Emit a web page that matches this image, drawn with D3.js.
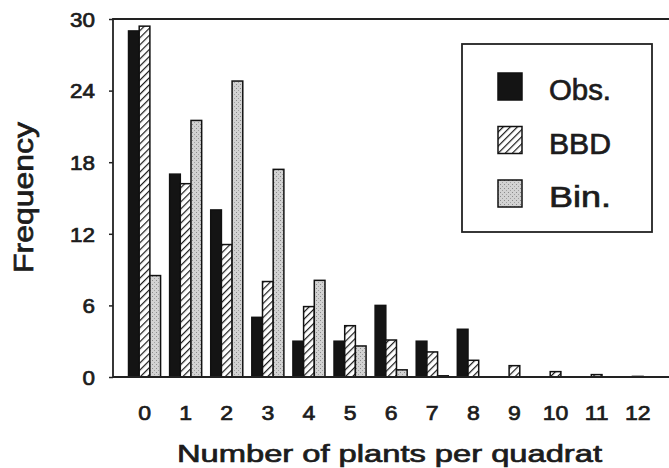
<!DOCTYPE html>
<html>
<head>
<meta charset="utf-8">
<script src="https://cdn.jsdelivr.net/npm/d3@7"></script>
<style>
  body { margin: 0; background: #fff; }
  text { font-family: "Liberation Sans", Arial, sans-serif; fill: #1c1c1c; stroke: #1c1c1c; stroke-width: 0.7px; }
</style>
</head>
<body>
<script>
const w = 669;
const h = 468;

// values
const categories = [0, 1, 2, 3, 4, 5, 6, 7, 8, 9, 10, 11, 12];
const obs = [29, 17, 14, 5, 3, 3, 6, 3, 4, 0, 0, 0, 0];
const bbd = [29.4, 16.2, 11.1, 8.0, 5.9, 4.3, 3.1, 2.1, 1.4, 0.95, 0.45, 0.2, 0.05];
const bin = [8.5, 21.5, 24.8, 17.4, 8.1, 2.6, 0.6, 0.1, 0, 0, 0, 0, 0];
const seriesNames = ["Obs.", "BBD", "Bin."];
const yTicks = [0, 6, 12, 18, 24, 30];

const series = [obs, bbd, bin];
const fills = ["#141414", "url(#hatch)", "url(#stipple)"];

let svg = d3.select("body")
            .append("svg")
                .attr("width", w)
                .attr("height", h);

// patterns
let defs = svg.append("defs");
let hatch = defs.append("pattern")
    .attr("id", "hatch")
    .attr("patternUnits", "userSpaceOnUse")
    .attr("width", 5)
    .attr("height", 5)
    .attr("patternTransform", "rotate(45)");
hatch.append("rect").attr("width", 5).attr("height", 5).attr("fill", "#fff");
hatch.append("line")
    .attr("x1", 0).attr("y1", 0).attr("x2", 0).attr("y2", 5)
    .attr("stroke", "#1a1a1a").attr("stroke-width", 2.4);

let stip = defs.append("pattern")
    .attr("id", "stipple")
    .attr("patternUnits", "userSpaceOnUse")
    .attr("width", 4)
    .attr("height", 4);
stip.append("rect").attr("width", 4).attr("height", 4).attr("fill", "#d2d2d2");
stip.append("rect").attr("x", 0).attr("y", 0).attr("width", 1).attr("height", 1).attr("fill", "#8a8a8a");
stip.append("rect").attr("x", 2).attr("y", 2).attr("width", 1).attr("height", 1).attr("fill", "#a0a0a0");

// scales
let x = d3.scaleBand()
    .domain(categories)
    .range([124, 124 + 13 * 41.1])
    .paddingInner(0.22)
    .paddingOuter(0.11);

let xs = d3.scaleBand()
    .domain(d3.range(series.length))
    .range([0, x.bandwidth()]);

let y = d3.scaleLinear()
    .domain([0, 30])
    .range([377, 19]);

// stretch text horizontally a bit, the original font is wide
function stretch(sel, k) {
    sel.each(function() {
        let len = this.getComputedTextLength();
        d3.select(this)
            .attr("textLength", len * k)
            .attr("lengthAdjust", "spacingAndGlyphs");
    });
}

// bars
series.forEach((vals, s) => {
    svg.append("g")
        .selectAll("rect")
        .data(categories.map((c, i) => ({c: c, v: vals[i]})).filter(d => d.v > 0))
        .enter()
        .append("rect")
        .attr("x", d => x(d.c) + xs(s))
        .attr("y", d => y(d.v))
        .attr("width", xs.bandwidth())
        .attr("height", d => y(0) - y(d.v))
        .attr("fill", fills[s])
        .attr("stroke", "#111")
        .attr("stroke-width", 1.5);
});

// frame: top and bottom run off the right edge
svg.append("path")
    .attr("d", "M" + w + "," + y(30) + "H" + 113 + "V" + y(0) + "H" + w)
    .attr("fill", "none")
    .attr("stroke", "#222")
    .attr("stroke-width", 1.8);

// y axis
let yAxis = svg.append("g")
    .attr("transform", "translate(113,0)")
    .call(d3.axisLeft(y).tickValues(yTicks).tickSize(4).tickPadding(14));
yAxis.select(".domain").remove();
yAxis.selectAll("line").attr("stroke", "#222").attr("stroke-width", 1.5);
yAxis.selectAll("text")
    .attr("font-size", 20)
    .attr("fill", "#1c1c1c")
    .attr("dy", "0.36em")
    .call(stretch, 1.12);

// x axis (labels only)
let xAxis = svg.append("g")
    .attr("transform", "translate(0," + y(0) + ")")
    .call(d3.axisBottom(x).tickSize(0).tickPadding(29));
xAxis.select(".domain").remove();
xAxis.selectAll("text")
    .attr("font-size", 20)
    .attr("fill", "#1c1c1c")
    .call(stretch, 1.15);

// axis titles
svg.append("text")
    .attr("x", 389.5)
    .attr("y", 462)
    .attr("text-anchor", "middle")
    .attr("font-size", 23.5)
    .attr("textLength", 425)
    .attr("lengthAdjust", "spacingAndGlyphs")
    .text("Number of plants per quadrat");

svg.append("text")
    .attr("transform", "translate(33,197.5) rotate(-90)")
    .attr("text-anchor", "middle")
    .attr("font-size", 27)
    .attr("textLength", 151)
    .attr("lengthAdjust", "spacingAndGlyphs")
    .text("Frequency");

// legend
let legend = svg.append("g");
legend.append("rect")
    .attr("x", 462)
    .attr("y", 44)
    .attr("width", 190)
    .attr("height", 188)
    .attr("fill", "#fff")
    .attr("stroke", "#222")
    .attr("stroke-width", 1.8);

let ly = d3.scalePoint()
    .domain(seriesNames)
    .range([100, 207]);

seriesNames.forEach((name, s) => {
    legend.append("rect")
        .attr("x", 498)
        .attr("y", ly(name) - 27)
        .attr("width", 24)
        .attr("height", 27)
        .attr("fill", fills[s])
        .attr("stroke", "#111")
        .attr("stroke-width", 1.5);
    legend.append("text")
        .attr("x", 549)
        .attr("y", ly(name))
        .attr("font-size", 29)
        .attr("textLength", 62)
        .attr("lengthAdjust", "spacingAndGlyphs")
        .text(name);
});
</script>
</body>
</html>
